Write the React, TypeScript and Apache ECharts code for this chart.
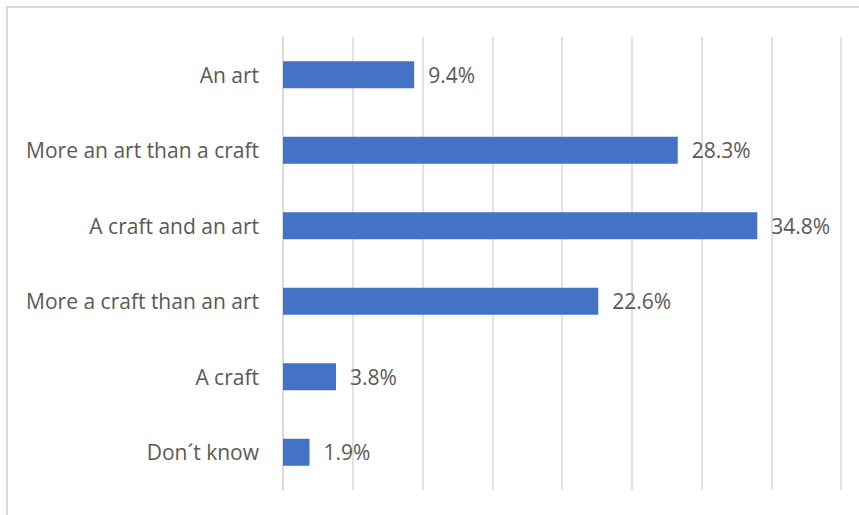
import React, { useEffect, useRef } from "react";
import * as echarts from "echarts";

const categories = [
  "An art",
  "More an art than a craft",
  "A craft and an art",
  "More a craft than an art",
  "A craft",
  "Don´t know",
];
// bar lengths as drawn in the picture
const values = [9.4, 28.3, 34.0, 22.6, 3.8, 1.9];
// data label texts as printed in the picture
const labels = ["9.4%", "28.3%", "34.8%", "22.6%", "3.8%", "1.9%"];
const axisMin = 0;
const axisMax = 40;
const axisInterval = 5;

const FONT = "'Open Sans', sans-serif";
const TEXT = "#595959";

export default function App() {
  const ref = useRef<HTMLDivElement>(null);
  useEffect(() => {
    if (!ref.current) return;
    const chart = echarts.init(ref.current, undefined, { renderer: "svg" });
    chart.setOption({
      animation: false,
      backgroundColor: "#ffffff",
      graphic: [
        {
          type: "rect",
          shape: { x: 7, y: 7, width: 900, height: 600 },
          style: { fill: "none", stroke: "#d9d9d9", lineWidth: 2 },
          silent: true,
        },
      ],
      grid: { left: 283, right: 18, top: 37, bottom: 25, containLabel: false },
      xAxis: {
        type: "value",
        min: axisMin,
        max: axisMax,
        interval: axisInterval,
        axisLabel: { show: false },
        axisLine: { show: false },
        axisTick: { show: false },
        splitLine: { show: true, lineStyle: { color: "#d9d9d9", width: 1.5 } },
      },
      yAxis: {
        type: "category",
        inverse: true,
        data: categories,
        axisLine: { show: true, lineStyle: { color: "#d9d9d9", width: 1.5 } },
        axisTick: { show: false },
        axisLabel: {
          color: TEXT,
          fontFamily: FONT,
          fontSize: 21,
          margin: 24,
        },
      },
      series: [
        {
          type: "bar",
          data: values,
          barWidth: 27,
          itemStyle: { color: "#4472C4" },
          label: {
            show: true,
            position: "right",
            distance: 14,
            color: TEXT,
            fontFamily: FONT,
            fontSize: 21,
            formatter: (p: any) => labels[p.dataIndex],
          },
        },
      ],
    });
    return () => chart.dispose();
  }, []);
  return (
    <div
      ref={ref}
      style={{ position: "fixed", left: 0, top: 0, width: 859, height: 515 }}
    />
  );
}
